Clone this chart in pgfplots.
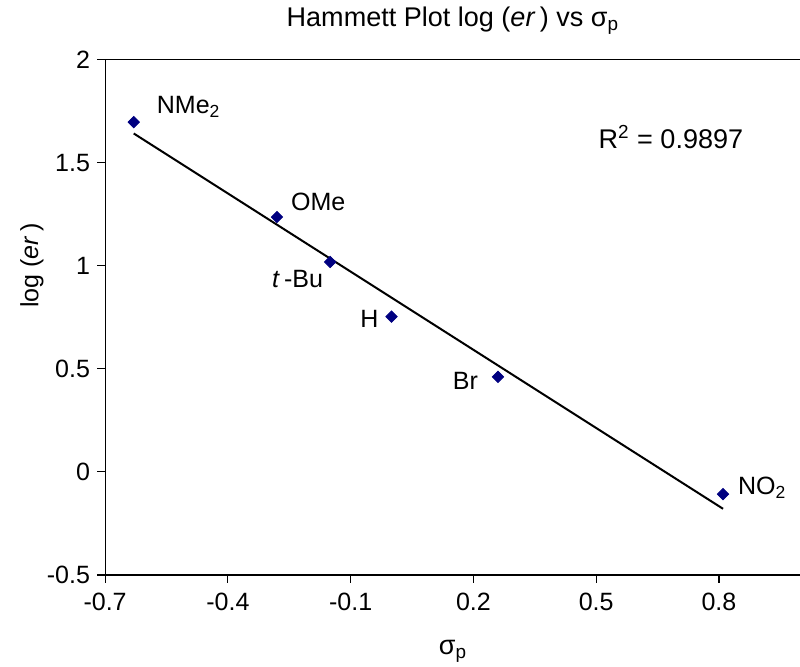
\documentclass[border=0pt]{standalone}
\usepackage{fontspec}
\setmainfont{Liberation Sans}
\usepackage{pgfplots}
\pgfplotsset{compat=1.18}
\definecolor{excelnavy}{RGB}{0,0,128}

\begin{document}
\begin{tikzpicture}
\begin{axis}[
    scale only axis, width=347.5pt, height=257.5pt,
    xmin=-0.7, xmax=1.0, ymin=-0.5, ymax=2,
    xtick={-0.7,-0.4,-0.1,0.2,0.5,0.8},
    ytick={-0.5,0,0.5,1,1.5,2},
    tick align=outside, tick pos=left, major tick length=4pt,
    tick style={black, line width=0.6pt},
    axis line style={line width=0.6pt},
    /pgf/number format/assume math mode=true,
    ticklabel style={font=\fontsize{12.5}{14}\selectfont},
    xticklabel style={yshift=-1.5pt},
    title={Hammett Plot log (\textit{er}\,) vs σ\textsubscript{p}},
    title style={font=\fontsize{13.5}{16}\selectfont, at={(0.5,1)}, anchor=center, yshift=13.5pt},
    xlabel={σ\textsubscript{p}},
    xlabel style={font=\fontsize{13.5}{16}\selectfont, at={(0.5,0)}, anchor=center, yshift=-38pt},
    ylabel={log (\textit{er}\,)},
    ylabel style={font=\fontsize{12.5}{15}\selectfont, at={(0,0.6)}, anchor=center, yshift=36.5pt},
]
% substituent data: sigma_p vs log(er)
\addplot[only marks, mark=square*, mark size=2pt, mark options={rotate=45}, color=excelnavy] coordinates {
    (-0.63,1.696) (-0.28,1.236) (-0.15,1.018) (0.00,0.753) (0.26,0.461) (0.81,-0.108)
};
% linear trendline
\addplot[black, line width=1pt] coordinates {(-0.63,1.641) (0.81,-0.179)};

\begin{scope}[font=\fontsize{12.5}{14}\selectfont]
\node[anchor=west] at (axis cs:-0.63,1.696) [xshift=8pt, yshift=7.5pt] {NMe\textsubscript{2}};
\node[anchor=west] at (axis cs:-0.28,1.236) [xshift=3.5pt, yshift=7.5pt] {OMe};
\node[anchor=east] at (axis cs:-0.15,1.018) [xshift=0pt, yshift=-8.5pt] {\textit{t}\,-Bu};
\node[anchor=east] at (axis cs:0.00,0.753) [xshift=-3pt, yshift=-1pt] {H};
\node[anchor=east] at (axis cs:0.26,0.461) [xshift=-6.5pt, yshift=-2pt] {Br};
\node[anchor=west] at (axis cs:0.81,-0.108) [xshift=4pt, yshift=3pt] {NO\textsubscript{2}};
\end{scope}
\node[anchor=base west, font=\fontsize{13.5}{16}\selectfont] at (rel axis cs:0,1) [xshift=243pt, yshift=-44.5pt] {R\textsuperscript{2} = 0.9897};
\end{axis}
\pgfresetboundingbox
\path[use as bounding box] ([xshift=-52.5pt, yshift=-45.5pt]current axis.south west)
    rectangle ([xshift=-0.4pt, yshift=29.7pt]current axis.north east);
\end{tikzpicture}
\end{document}
